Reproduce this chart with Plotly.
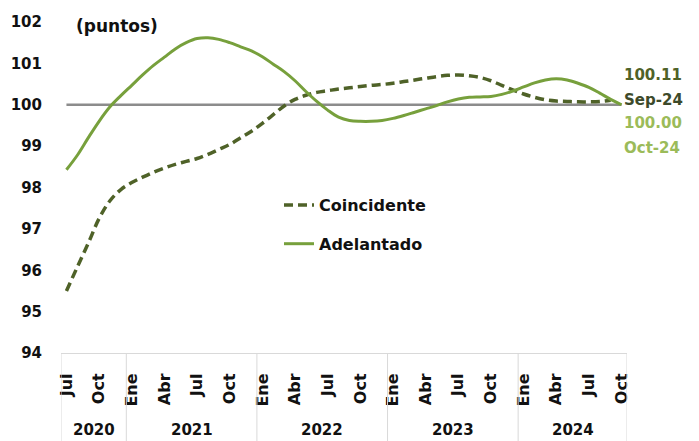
import plotly.graph_objects as go

# Monthly values, Jul 2020 onward (points)
coincidente = [95.50, 96.08, 96.65, 97.25, 97.68, 97.95, 98.12, 98.25, 98.37, 98.47,
               98.56, 98.63, 98.70, 98.80, 98.92, 99.04, 99.20, 99.36, 99.55, 99.76,
               99.97, 100.13, 100.23, 100.30, 100.34, 100.38, 100.41, 100.44, 100.47, 100.49,
               100.52, 100.56, 100.60, 100.64, 100.68, 100.71, 100.72, 100.70, 100.66, 100.58,
               100.47, 100.36, 100.26, 100.18, 100.12, 100.09, 100.08, 100.07, 100.07, 100.08,
               100.11]
adelantado = [98.43, 98.78, 99.20, 99.60, 99.95, 100.22, 100.47, 100.72, 100.95, 101.15,
              101.35, 101.50, 101.60, 101.62, 101.58, 101.50, 101.40, 101.30, 101.16, 100.98,
              100.80, 100.58, 100.32, 100.08, 99.87, 99.70, 99.62, 99.60, 99.60, 99.62,
              99.67, 99.74, 99.82, 99.90, 99.98, 100.07, 100.14, 100.18, 100.19, 100.20,
              100.25, 100.33, 100.43, 100.53, 100.60, 100.63, 100.60, 100.52, 100.42, 100.28,
              100.13, 100.00]
tick_labels = ["Jul", "Oct", "Ene", "Abr", "Jul", "Oct", "Ene", "Abr", "Jul", "Oct",
               "Ene", "Abr", "Jul", "Oct", "Ene", "Abr", "Jul", "Oct"]
tick_positions = list(range(0, 52, 3))
years = ["2020", "2021", "2022", "2023", "2024"]
year_bounds = [-0.5, 5.5, 17.5, 29.5, 41.5, 51.5]
y_ticks = [94, 95, 96, 97, 98, 99, 100, 101, 102]
reference_level = 100
last_labels = ["100.11", "Sep-24", "100.00", "Oct-24"]

FONT = "DejaVu Sans"
DARK = "#4f6228"
MID = "#77a03c"
LIGHT = "#9bbb59"

# the page body adds an 8px offset; positions below are in window pixels
OFF = 8
PLOT_TOP, PLOT_BOTTOM = 22, 353
PLOT_LEFT, PLOT_RIGHT = 61, 627
PLOT_H = PLOT_BOTTOM - PLOT_TOP
PLOT_W = PLOT_RIGHT - PLOT_LEFT


def py(pix):
    return 1.0 - (pix - PLOT_TOP) / PLOT_H


def px(pix):
    return (pix - PLOT_LEFT) / PLOT_W


fig = go.Figure()

# reference line at 100
fig.add_trace(go.Scatter(x=[0, len(adelantado) - 1], y=[reference_level, reference_level],
                         mode="lines", line=dict(color="#8c8c8c", width=2.5),
                         showlegend=False, hoverinfo="skip"))

fig.add_trace(go.Scatter(x=list(range(len(coincidente))), y=coincidente, mode="lines",
                         name="Coincidente", legendgroup="c",
                         line=dict(color=DARK, width=3.5, dash="9px,5px", shape="spline")))
fig.add_trace(go.Scatter(x=list(range(len(adelantado))), y=adelantado, mode="lines",
                         name="Adelantado", legendgroup="a",
                         line=dict(color=MID, width=3, shape="spline")))

# year labels and dividers
for i, yr in enumerate(years):
    mid = (year_bounds[i] + year_bounds[i + 1]) / 2
    fig.add_annotation(x=mid, y=py(430), xref="x", yref="paper", text="<b>%s</b>" % yr,
                       showarrow=False, yanchor="middle",
                       font=dict(family=FONT, size=15, color="#111"))
for b in year_bounds:
    fig.add_shape(type="line", xref="x", yref="paper", x0=b, x1=b, y0=0, y1=py(445),
                  line=dict(color="#d9d9d9", width=1))

# end labels
end_x = len(adelantado) - 1
label_specs = [(last_labels[0], py(75), DARK),
               (last_labels[1], py(100), "#3d4a2a"),
               (last_labels[2], py(123), LIGHT),
               (last_labels[3], py(148), LIGHT)]
for txt, yy, col in label_specs:
    fig.add_annotation(x=end_x, y=yy, xref="x", yref="paper", text="<b>%s</b>" % txt,
                       showarrow=False, xanchor="left", yanchor="middle", xshift=0,
                       font=dict(family=FONT, size=15, color=col))

fig.add_annotation(x=px(74), y=py(26), xref="paper", yref="paper",
                   text="<b>(puntos)</b>", showarrow=False, xanchor="left", yanchor="middle",
                   font=dict(family=FONT, size=17, color="#111"))

fig.update_layout(
    width=699, height=441,
    margin=dict(l=PLOT_LEFT - OFF, r=699 - (PLOT_RIGHT - OFF),
                t=PLOT_TOP - OFF, b=441 - (PLOT_BOTTOM - OFF), autoexpand=False),
    paper_bgcolor="white", plot_bgcolor="white",
    font=dict(family=FONT, color="#111"),
    legend=dict(x=px(279), y=py(188),
                xanchor="left", yanchor="top", tracegroupgap=15,
                font=dict(family=FONT, size=16, color="#111", weight="bold"),
                bgcolor="rgba(0,0,0,0)"),
)
fig.update_xaxes(range=[-0.5, 51.5], tickmode="array", tickvals=tick_positions,
                 ticktext=["<b>%s</b>" % t for t in tick_labels], tickangle=-90,
                 showgrid=False, zeroline=False, showline=True, linecolor="#d9d9d9",
                 linewidth=1, ticks="", ticklabelstandoff=13, automargin=False,
                 tickfont=dict(family=FONT, size=16, color="#111"))
fig.update_yaxes(range=[94, 102], tickmode="array", tickvals=y_ticks,
                 ticktext=["<b>%d</b>" % v for v in y_ticks],
                 showgrid=False, zeroline=False, showline=False, ticks="",
                 ticklabelstandoff=18, automargin=False,
                 tickfont=dict(family=FONT, size=15, color="#111"))

fig.write_html("out.html")
